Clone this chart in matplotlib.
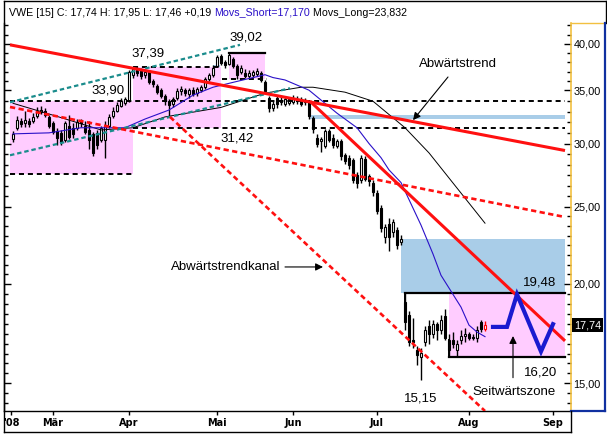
import matplotlib
matplotlib.use('Agg')
import matplotlib.pyplot as plt
import matplotlib.transforms as mtrans
from matplotlib.lines import Line2D
from matplotlib.ticker import FixedLocator, FixedFormatter, NullFormatter

plt.rcParams['font.family'] = ['Liberation Sans', 'DejaVu Sans']

W, H = 607, 436

# daily candles (trading day index 0..118)
opens = [30.40, 31.40, 32.00, 31.80, 32.00, 32.00, 32.50, 32.90, 33.00, 32.40,
         31.80, 31.10, 30.90, 30.30, 31.60, 31.40, 31.40, 32.00, 31.60, 31.20,
         30.80, 30.90, 30.30, 30.30, 31.60, 32.50, 33.00, 33.40, 33.70, 33.90,
         36.60, 37.10, 37.00, 36.60, 36.90, 35.90, 35.40, 35.00, 34.40, 33.90,
         33.60, 34.20, 34.90, 35.00, 34.60, 35.00, 34.70, 35.00, 35.30, 36.10,
         36.60, 37.50, 38.60, 38.00, 37.80, 38.30, 37.50, 36.90, 36.80, 36.50,
         36.60, 36.70, 36.80, 35.80, 34.20, 33.20, 34.20, 33.80, 33.60, 33.70,
         33.80, 34.10, 34.10, 33.80, 33.90, 32.30, 30.50, 30.20, 29.80, 31.10,
         30.50, 29.80, 30.20, 29.00, 28.80, 28.60, 27.40, 27.00, 28.70, 27.30,
         26.80, 26.00, 24.90, 22.90, 23.80, 23.20, 23.40, 22.60, 19.00, 18.30,
         17.00, 16.50, 16.20, 16.90, 17.70, 17.30, 17.80, 17.50, 18.20, 16.50,
         17.00, 16.50, 17.00, 17.20, 17.30, 17.15, 17.10, 17.90, 17.55]
highs = [31.10, 32.50, 32.30, 33.00, 32.30, 32.80, 33.30, 33.40, 33.20, 32.60,
         32.00, 31.40, 31.20, 32.00, 32.60, 31.80, 32.20, 32.20, 32.00, 32.00,
         31.00, 31.20, 31.60, 32.00, 32.70, 33.30, 33.80, 34.20, 34.30, 37.10,
         37.39, 37.30, 37.20, 37.10, 37.00, 36.10, 35.60, 35.20, 34.60, 34.10,
         34.30, 35.20, 35.40, 35.20, 35.20, 35.30, 35.30, 35.50, 36.40, 36.80,
         37.60, 38.70, 38.90, 38.20, 39.02, 38.50, 37.70, 37.60, 37.20, 37.10,
         37.10, 37.30, 37.00, 36.00, 34.40, 33.90, 34.40, 34.30, 34.40, 34.30,
         34.50, 34.40, 34.30, 34.20, 34.00, 32.50, 30.80, 30.60, 31.30, 31.30,
         30.80, 30.40, 30.40, 29.20, 29.00, 28.80, 27.60, 29.00, 28.90, 27.50,
         27.00, 26.20, 25.10, 23.80, 24.20, 24.10, 23.60, 23.00, 19.48, 18.50,
         18.10, 16.70, 16.60, 17.70, 18.00, 18.00, 17.90, 18.30, 18.60, 17.30,
         17.40, 17.00, 17.50, 17.60, 17.40, 17.30, 17.70, 18.00, 17.95]
lows = [30.10, 31.20, 31.50, 31.50, 31.50, 31.80, 32.30, 32.70, 32.40, 31.40,
        30.80, 29.90, 29.90, 30.10, 30.40, 30.50, 31.20, 31.50, 30.80, 29.50,
        28.90, 29.50, 30.10, 28.80, 31.40, 32.30, 32.90, 33.30, 33.50, 33.80,
        36.30, 36.50, 36.20, 36.30, 35.60, 35.30, 34.60, 34.20, 33.50, 32.40,
        33.30, 34.00, 34.50, 34.40, 34.20, 34.40, 34.40, 34.80, 35.10, 35.90,
        36.40, 37.40, 37.60, 37.30, 37.60, 37.30, 36.20, 36.70, 36.30, 36.30,
        36.40, 36.50, 35.80, 34.60, 32.90, 33.00, 33.20, 33.50, 33.40, 33.50,
        33.60, 33.60, 33.40, 33.50, 32.20, 30.90, 29.70, 29.30, 29.60, 30.10,
        29.60, 29.60, 28.60, 28.30, 27.90, 26.80, 26.40, 26.80, 26.90, 26.50,
        25.80, 24.50, 23.20, 22.50, 22.00, 22.90, 22.10, 22.40, 17.50, 16.70,
        16.60, 15.80, 15.15, 16.70, 16.80, 17.10, 17.00, 17.30, 17.00, 16.20,
        16.60, 16.20, 16.80, 16.90, 17.00, 17.00, 16.90, 17.40, 17.46]
closes = [30.85, 32.10, 31.70, 32.10, 31.70, 32.40, 33.00, 33.10, 32.60, 31.60,
          31.00, 30.50, 30.10, 31.80, 30.60, 30.80, 31.90, 31.80, 31.00, 30.30,
          29.20, 29.90, 31.40, 31.60, 32.40, 33.00, 33.50, 33.90, 34.10, 36.90,
          37.20, 36.80, 36.50, 36.90, 35.80, 35.60, 34.80, 34.40, 33.90, 33.50,
          34.10, 34.90, 35.10, 34.70, 35.00, 34.60, 35.10, 35.30, 36.20, 36.60,
          37.30, 38.50, 37.90, 37.60, 38.70, 37.50, 36.60, 37.30, 36.50, 36.80,
          36.90, 37.00, 36.00, 34.90, 33.20, 33.60, 33.60, 34.00, 34.10, 34.10,
          34.20, 33.90, 33.60, 34.00, 32.50, 31.30, 30.00, 30.40, 31.10, 30.30,
          29.90, 30.20, 28.90, 28.50, 28.20, 27.00, 26.80, 28.80, 27.10, 26.90,
          26.10, 24.70, 23.50, 23.60, 22.90, 23.90, 22.40, 22.80, 17.90, 16.90,
          16.90, 16.30, 16.40, 17.50, 17.30, 17.80, 17.50, 18.00, 17.10, 17.00,
          16.80, 16.80, 17.20, 17.30, 17.10, 17.10, 17.50, 17.55, 17.74]

month_labels = ["'08", 'Mär', 'Apr', 'Mai', 'Jun', 'Jul', 'Aug', 'Sep']
month_pos = [-0.5, 10, 29, 51, 70, 91, 114, 135]

# moving averages
ma_short_x = [0, 9, 17, 24, 28, 33, 39, 45, 50, 55, 60, 63, 65, 68, 74, 81, 86,
              89, 92, 94, 97, 102, 105, 107, 110, 112, 114, 116, 118]
ma_short = [30.85, 30.94, 31.40, 31.40, 31.40, 32.20, 33.05, 34.50, 35.30, 35.80,
            36.30, 36.60, 36.30, 36.05, 35.00, 32.75, 31.40, 30.00, 28.80, 27.80,
            26.80, 23.70, 21.80, 20.50, 19.40, 18.70, 17.75, 17.40, 17.17]
ma_long_x = [0, 11, 22, 30, 38, 52, 63, 72, 75, 83, 90, 98, 104, 112, 118]
ma_long = [33.70, 32.45, 31.20, 31.40, 32.40, 33.30, 34.70, 35.30, 35.30, 34.80,
           33.90, 31.40, 29.20, 26.00, 23.832]

# projected sideways move
zig_x = [120, 123.5, 126, 132, 135]
zig_y = [17.66, 17.66, 19.40, 16.45, 17.80]

# trend lines: (x0, x1, y0, y1)
trend_long = (-0.75, 138, 39.90, 29.40)
trend_steep = (74.25, 138, 33.90, 16.96)
channel_mid = (-0.75, 138, 33.34, 24.26)
channel_low = (39.25, 118, 32.40, 13.85)
teal_up = (-0.75, 56.75, 33.80, 39.90)
teal_low = (-0.75, 69.25, 29.00, 35.20)

# horizontal levels: (price, x0, x1)
dashed_levels = [(33.90, -0.75, 138), (27.47, -0.75, 30), (37.39, 30, 52),
                 (31.42, 30, 138), (36.15, 52.25, 63.5)]
solid_levels = [(39.02, 54, 63), (19.48, 98, 138), (16.20, 109, 138)]
solid_verticals = [(98, 18.90, 19.48), (109, 16.20, 17.00)]

pink_zones = [(-0.75, 30, 27.47, 33.90), (30, 52, 31.42, 37.39),
              (54, 63, 36.15, 39.02), (109, 138, 16.20, 19.48)]
blue_zones = [(74.25, 138, 32.24, 32.55), (97, 138, 19.48, 22.77),
              (50, 51.75, 37.40, 37.64)]

value_labels = [('33,90', 23.75, 34.92), ('37,39', 33.75, 38.97), ('39,02', 58.25, 40.70),
                ('31,42', 56, 30.40), ('19,48', 131.75, 20.10), ('16,20', 132, 15.50),
                ('15,15', 102, 14.38)]

fig = plt.figure(figsize=(W / 100, H / 100), dpi=100)
ax = fig.add_axes([4 / W, 25 / H, 567 / W, 388 / H])
ax.set_yscale('log')
ax.set_xlim(-2.25, 139.5)
ax.set_ylim(13.85, 42.5)

for x0, x1, y0, y1 in pink_zones:
    ax.fill_between([x0, x1], y0, y1, color='#ffccff', lw=0, zorder=1)
for x0, x1, y0, y1 in blue_zones:
    ax.fill_between([x0, x1], y0, y1, color='#a9cde8', lw=0, zorder=1)

# candles
bw = 0.72
for i in range(len(closes)):
    o, h, l, c = opens[i], highs[i], lows[i], closes[i]
    last = i == len(closes) - 1
    ec = 'red' if last else 'black'
    ax.vlines(i, l, h, color=ec, lw=1.0, zorder=3)
    fc = 'white' if c >= o else 'black'
    ax.bar(i, max(abs(c - o), 0.04), bottom=min(o, c), width=bw,
           facecolor=fc, edgecolor=ec, lw=0.8, zorder=4)

for p, x0, x1 in dashed_levels:
    ax.plot([x0, x1], [p, p], color='black', lw=1.4, dashes=(2.6, 2.0), zorder=5)
for p, x0, x1 in solid_levels:
    ax.plot([x0, x1], [p, p], color='black', lw=1.6, zorder=5)
for x, p0, p1 in solid_verticals:
    ax.plot([x, x], [p0, p1], color='black', lw=1.4, zorder=5)

ax.plot(ma_long_x, ma_long, color='black', lw=0.7, zorder=6)
ax.plot(ma_short_x, ma_short, color='#2a10c8', lw=0.8, zorder=6)

for x0, x1, y0, y1 in (teal_up, teal_low):
    ax.plot([x0, x1], [y0, y1], color='#1a8c8c', lw=1.6, dashes=(2.0, 1.3), zorder=6)
for x0, x1, y0, y1 in (channel_mid, channel_low):
    ax.plot([x0, x1], [y0, y1], color='#ff1010', lw=1.9, dashes=(2.0, 1.3), zorder=7)
for x0, x1, y0, y1 in (trend_long, trend_steep):
    ax.plot([x0, x1], [y0, y1], color='#ff1010', lw=2.2, solid_capstyle='butt', zorder=7)

ax.plot(zig_x, zig_y, color='#1a1ad0', lw=3.0, solid_joinstyle='miter', zorder=8)

for txt, x, y in value_labels:
    ax.text(x, y, txt, fontsize=9.5, ha='center', va='center', zorder=9)
ax.text(111.25, 37.75, 'Abwärtstrend', fontsize=9.5, ha='center', va='center', zorder=9)
ax.text(66.75, 21.0, 'Abwärtstrendkanal', fontsize=9.5, ha='right', va='center', zorder=9)
ax.text(125.25, 14.63, 'Seitwärtszone', fontsize=9.5, ha='center', va='center', zorder=9)

arrow = dict(arrowstyle='-|>', color='black', lw=0.8, mutation_scale=11, shrinkA=0, shrinkB=0)
ax.annotate('', xy=(100, 32.1), xytext=(108.75, 36.36), arrowprops=arrow, zorder=9)
ax.annotate('', xy=(77.5, 21.0), xytext=(68, 21.0), arrowprops=arrow, zorder=9)
ax.annotate('', xy=(125, 17.2), xytext=(125, 15.25), arrowprops=arrow, zorder=9)

# axes styling
ax.spines['top'].set_visible(False)
ax.spines['right'].set_color('#f2c040')
ax.spines['right'].set_linewidth(1.2)
ax.spines['left'].set_linewidth(1.0)
ax.spines['bottom'].set_linewidth(1.0)

majors = [15, 20, 25, 30, 35, 40]
steps = [10, 8, 6, 5, 5]
minors = []
for k in range(len(majors) - 1):
    a, b = majors[k], majors[k + 1]
    n = steps[k]
    minors += [a * (b / a) ** (j / n) for j in range(1, n)]
minors += [15 * (15 / 20) ** (j / 10) for j in range(1, 4)]
minors += [40 * (40 / 35) ** (j / 5) for j in range(1, 3)]
ax.yaxis.set_major_locator(FixedLocator(majors))
ax.yaxis.set_major_formatter(FixedFormatter([f'{m:.2f}'.replace('.', ',') for m in majors]))
ax.yaxis.set_minor_locator(FixedLocator(minors))
ax.yaxis.set_minor_formatter(NullFormatter())
ax.tick_params(axis='y', which='both', left=True, right=True, labelleft=False,
               labelright=True, direction='in', width=1.0, pad=1.8, labelsize=7.8)
ax.tick_params(axis='y', which='major', length=5)
ax.tick_params(axis='y', which='minor', length=3)

ax.set_xticks(month_pos)
ax.set_xticklabels(month_labels, fontsize=7, fontweight='bold',
                   family=['Liberation Sans Narrow', 'DejaVu Sans'])
ax.tick_params(axis='x', direction='out', length=3, width=1.0, pad=2)

# current price box
blend = mtrans.blended_transform_factory(ax.transAxes, ax.transData)
ax.text(1.005, closes[-1], f'{closes[-1]:.2f}'.replace('.', ','), transform=blend,
        color='white', fontsize=7.8, ha='left', va='center',
        bbox=dict(facecolor='black', edgecolor='none', pad=1.3), clip_on=False)


def px_line(xs, ys, **kw):
    fig.add_artist(Line2D([x / W for x in xs], [1 - y / H for y in ys],
                          transform=fig.transFigure, **kw))


px_line([4, 606], [1, 1], color='black', lw=1.0)
px_line([4, 4], [1, 432], color='black', lw=1.0)
px_line([605.5, 605.5], [1, 23], color='black', lw=1.0)
px_line([571, 604], [23, 23], color='#f2c040', lw=1.0)
px_line([604.5, 604.5], [23, 411], color='#1030a0', lw=1.6)
px_line([571, 605], [411, 411], color='#1030a0', lw=1.6)
px_line([4, 571], [432, 432], color='black', lw=1.0)
px_line([571, 571], [411, 432], color='black', lw=1.0)

# header line
chg = closes[-1] - closes[-2]
head = (f'VWE [15] C: {closes[-1]:.2f} H: {highs[-1]:.2f} L: {lows[-1]:.2f} '
        f'{chg:+.2f} ').replace('.', ',')
t1 = fig.text(9 / W, 1 - 12.5 / H, head, fontsize=7.7, va='center', ha='left')
t2 = plt.annotate(f'Movs_Short={ma_short[-1]:.3f}'.replace('.', ','), xy=(1, 0),
                  xycoords=t1, va='bottom', ha='left', fontsize=7.7, color='#2a10c8',
                  annotation_clip=False)
plt.annotate(f' Movs_Long={ma_long[-1]:.3f}'.replace('.', ','), xy=(1, 0),
             xycoords=t2, va='bottom', ha='left', fontsize=7.7, color='black',
             annotation_clip=False)

fig.savefig('out.png', dpi=100)
